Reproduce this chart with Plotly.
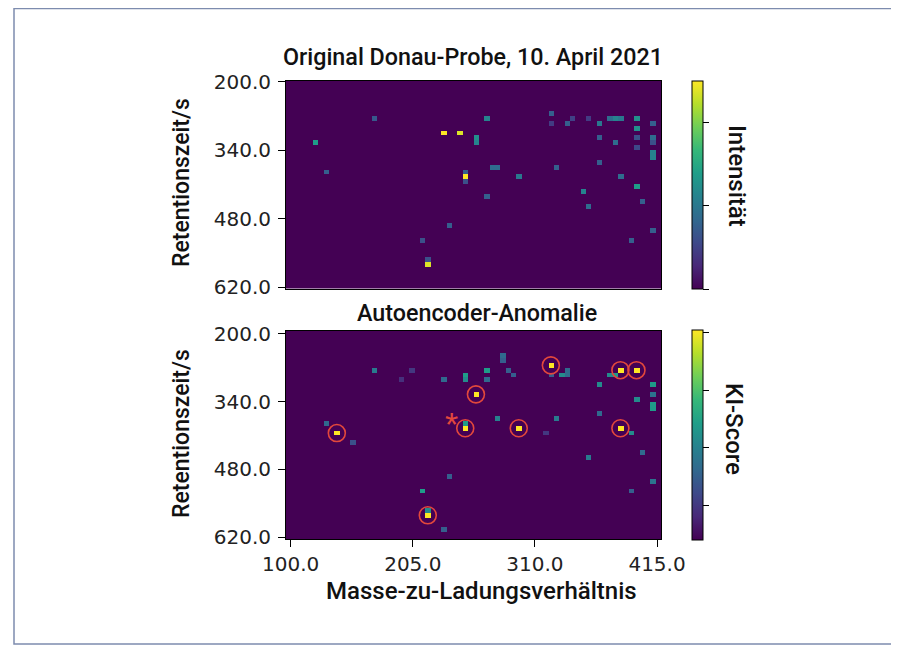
import numpy as np
import plotly.graph_objects as go

# ---------------- data ----------------
# top panel: original sample (m/z, retention time, intensity)
top_mz = [119, 130, 171, 230, 246.5, 252, 252, 252, 261, 261, 267, 267, 271, 276,
          236, 211, 216, 216, 297, 322, 322, 327, 338, 342, 353, 358, 358, 364, 364,
          367, 372, 377, 381, 385, 378, 384, 399, 399, 399, 399, 399, 395, 401, 394,
          409, 409, 409, 413, 413, 413]
top_rt = [324, 384, 276, 300, 300, 397, 387, 407, 312, 322, 276, 436, 375, 375,
          496, 520, 570, 560, 397, 264, 282, 375, 288, 278, 423, 457, 276, 311, 362,
          285, 278, 278, 278, 278, 324, 397, 278, 290, 310, 333, 411, 411, 447, 520,
          343, 355, 324, 285, 311, 509]
top_val = [0.55, 0.30, 0.28, 1.00, 0.95, 1.00, 0.30, 0.25, 0.50, 0.45, 0.45, 0.30, 0.35, 0.35,
           0.30, 0.25, 0.95, 0.25, 0.40, 0.30, 0.18, 0.30, 0.30, 0.20, 0.45, 0.35, 0.18, 0.30, 0.30,
           0.40, 0.35, 0.40, 0.45, 0.40, 0.35, 0.35, 0.50, 0.50, 0.25, 0.22, 0.55, 0.30, 0.30, 0.30,
           0.45, 0.45, 0.25, 0.30, 0.35, 0.30]

# bottom panel: autoencoder anomaly score
bot_mz = [140, 130, 155.5, 171, 206, 197, 230.6, 252, 252, 267, 267, 261, 252, 252,
          277, 298, 283.5, 280, 289, 293, 322, 322, 327, 317, 333, 338, 338, 383, 375,
          379, 399, 384, 394, 364, 364, 358, 399, 409, 409, 409, 413, 401, 394, 413,
          236, 211, 216, 216, 231]
bot_rt = [408, 382, 422, 272, 272, 296, 296, 289, 299, 272, 290, 322, 395, 385,
          371, 395, 247, 258, 272, 286, 260, 284, 371, 408, 286, 272, 286, 272, 286,
          286, 272, 395, 408, 308, 361, 456, 333, 322, 347, 357, 308, 444, 520, 508,
          496, 520, 570, 560, 604]
bot_val = [0.73, 0.25, 0.18, 0.30, 0.12, 0.10, 0.25, 0.40, 0.35, 0.40, 0.25, 0.73, 0.73, 0.40,
           0.32, 0.73, 0.25, 0.22, 0.22, 0.22, 0.73, 0.22, 0.30, 0.12, 0.35, 0.25, 0.25, 0.73, 0.35,
           0.40, 0.73, 0.73, 0.35, 0.35, 0.25, 0.30, 0.35, 0.28, 0.40, 0.40, 0.40, 0.25, 0.22, 0.28,
           0.22, 0.40, 0.73, 0.35, 0.22]

# circled anomalies
circle_mz = [140, 261, 252, 298, 322, 383, 399, 384, 216]
circle_rt = [408, 322, 395, 395, 260, 272, 272, 395, 570]
star_mz = [238]
star_rt = [375]

x_ticks = [100, 205, 310, 415]
y_ticks = [200, 340, 480, 620]
x_ticktext = ["100.0", "205.0", "310.0", "415.0"]
y_ticktext = ["200.0", "340.0", "480.0", "620.0"]

# ---------------- grid ----------------
MZ0, DMZ, NX = 96.0, 4.6, 70
RT0, DRT, NY = 200.0, 10.0, 42
xc = MZ0 + DMZ * (np.arange(NX) + 0.5)
yc = RT0 + DRT * (np.arange(NY) + 0.5)


def ix(m):
    return int(np.clip((m - MZ0) // DMZ, 0, NX - 1))


def iy(r):
    return int(np.clip((r - RT0) // DRT, 0, NY - 1))


def grid(mz, rt, val):
    z = np.zeros((NY, NX))
    for m, r, v in zip(mz, rt, val):
        z[iy(r), ix(m)] = max(z[iy(r), ix(m)], v)
    return z


z_top = grid(top_mz, top_rt, top_val)
z_bot = grid(bot_mz, bot_rt, bot_val)
cx = [xc[ix(m)] for m in circle_mz]
cy = [yc[iy(r)] for r in circle_rt]

# ---------------- figure ----------------
OFF = 8  # page body margin
W, H = 899 - OFF, 650 - OFF
L, T = 286 - OFF, 81 - OFF
R, B = W - (661 - OFF), H - (539 - OFF)
PW, PH = W - L - R, H - T - B


def px(x):
    return (x - OFF - L) / PW


def py(y):
    return (H - B - (y - OFF)) / PH


TXT = "Roboto, Liberation Sans, Arial, sans-serif"
TICKF = dict(family="DejaVu Sans", size=20, color="#222222")
VIRIDIS0 = "#440154"

fig = go.Figure()
fig.add_trace(go.Heatmap(
    x=xc, y=yc, z=z_top, colorscale="Viridis", zmin=0, zmax=1.0,
    xaxis="x", yaxis="y",
    colorbar=dict(x=px(692), xanchor="left", xpad=0, thickness=11,
                  len=208 / PH, lenmode="fraction", y=py(185), yanchor="middle", ypad=0,
                  outlinecolor="black", outlinewidth=1,
                  tickvals=[0, 0.4, 0.8], ticks="outside", ticklen=6, tickcolor="black",
                  showticklabels=False),
    hoverinfo="skip"))
fig.add_trace(go.Heatmap(
    x=xc, y=yc, z=z_bot, colorscale="Viridis", zmin=0, zmax=0.73,
    xaxis="x2", yaxis="y2",
    colorbar=dict(x=px(692), xanchor="left", xpad=0, thickness=11,
                  len=210 / PH, lenmode="fraction", y=py(435), yanchor="middle", ypad=0,
                  outlinecolor="black", outlinewidth=1,
                  tickvals=[0.12, 0.32, 0.52, 0.72], ticks="outside", ticklen=6, tickcolor="black",
                  showticklabels=False),
    hoverinfo="skip"))
fig.add_trace(go.Scatter(
    x=cx, y=cy, mode="markers", xaxis="x2", yaxis="y2",
    marker=dict(symbol="circle-open", size=17, color="#e2483c",
                line=dict(width=1.6, color="#e2483c")),
    showlegend=False, hoverinfo="skip"))

axis_common = dict(showline=True, linecolor="black", linewidth=1, mirror=True,
                   showgrid=False, zeroline=False)
fig.update_layout(
    width=W, height=H, autosize=False,
    margin=dict(l=L, r=R, t=T, b=B),
    paper_bgcolor="white", plot_bgcolor=VIRIDIS0,
    showlegend=False,
    xaxis=dict(domain=[0, 1], anchor="y", range=[96, 418.4], ticks="",
               showticklabels=False, **axis_common),
    yaxis=dict(domain=[py(288.5), 1], anchor="x", range=[623, 198.5],
               tickvals=y_ticks, ticktext=y_ticktext, ticks="outside", ticklen=7,
               tickcolor="black", tickfont=TICKF, ticklabelstandoff=3, **axis_common),
    xaxis2=dict(domain=[0, 1], anchor="y2", range=[96, 418.4],
                tickvals=x_ticks, ticktext=x_ticktext, ticks="outside", ticklen=7,
                tickcolor="black", tickfont=TICKF, **axis_common),
    yaxis2=dict(domain=[0, py(331)], anchor="x2", range=[624, 194],
                tickvals=y_ticks, ticktext=y_ticktext, ticks="outside", ticklen=7,
                tickcolor="black", tickfont=TICKF, ticklabelstandoff=3, **axis_common),
)

ann = []


def txt(text, x, y, size, angle=0):
    ann.append(dict(text=text, x=px(x), y=py(y), xref="paper", yref="paper",
                    xanchor="center", yanchor="middle", showarrow=False,
                    textangle=angle,
                    font=dict(family=TXT, size=size, color="#111111", weight=500)))


txt("Original Donau-Probe, 10. April 2021", 473, 57, 23.3)
txt("Autoencoder-Anomalie", 477, 313, 23.3)
txt("Retentionszeit/s", 181, 183, 23, -90)
txt("Retentionszeit/s", 181, 434, 23, -90)
txt("Masse-zu-Ladungsverhältnis", 481, 591, 24)
txt("Intensität", 737, 176, 24, 90)
txt("KI-Score", 734, 429, 24, 90)

# asterisk next to one anomaly
ann.append(dict(text="*", x=star_mz[0], y=star_rt[0], xref="x2", yref="y2",
                showarrow=False, yshift=-5,
                font=dict(family="Liberation Sans", size=34, color="#e2483c")))
fig.update_layout(annotations=ann)

# frame around the whole figure
fig.add_shape(type="rect", xref="paper", yref="paper",
              x0=px(14), x1=px(896), y0=py(644), y1=py(8.5),
              line=dict(color="#7d8cae", width=1.5), fillcolor="rgba(0,0,0,0)", layer="below")

fig.write_html("out.html")
